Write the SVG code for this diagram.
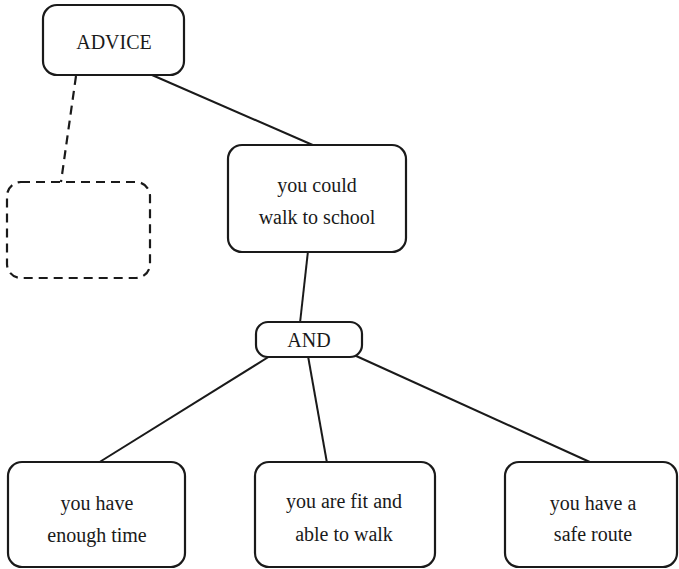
<svg xmlns="http://www.w3.org/2000/svg" width="679" height="569" viewBox="0 0 679 569">
<style>
.box{fill:#fff;stroke:#1a1a1a;stroke-width:2.2}
.dash{fill:none;stroke:#1a1a1a;stroke-width:2.2;stroke-dasharray:9 6}
.ln{stroke:#1a1a1a;stroke-width:2;fill:none}
text{font-family:"Liberation Serif","Times New Roman",serif;font-size:20px;fill:#1a1a1a;text-anchor:middle}
</style>
<rect width="679" height="569" fill="#fff"/>
<g id="connectors">
<line class="ln" x1="152" y1="75" x2="315" y2="146"/>
<line class="dash" x1="76" y1="76" x2="61" y2="182"/>
<line class="ln" x1="308" y1="251" x2="300" y2="323"/>
<line class="ln" x1="270" y1="356" x2="98" y2="463"/>
<line class="ln" x1="308" y1="356" x2="327" y2="463"/>
<line class="ln" x1="354" y1="355" x2="592" y2="463"/>
</g>
<g id="advice">
<rect class="box" x="43" y="5" width="141" height="70" rx="14"/>
<text x="114" y="49" font-size="21">ADVICE</text>
</g>
<g id="empty">
<rect class="dash" x="7" y="182" width="143" height="96" rx="14"/>
</g>
<g id="walk">
<rect class="box" x="228" y="145" width="178" height="107" rx="14"/>
<text x="317" y="192">you could</text>
<text x="317" y="224">walk to school</text>
</g>
<g id="and">
<rect class="box" x="256" y="322" width="106" height="35" rx="12"/>
<text x="309" y="347">AND</text>
</g>
<g id="time">
<rect class="box" x="8" y="462" width="177" height="105" rx="14"/>
<text x="97" y="510">you have</text>
<text x="97" y="542">enough time</text>
</g>
<g id="fit">
<rect class="box" x="255" y="462" width="180" height="105" rx="14"/>
<text x="344" y="508">you are fit and</text>
<text x="344" y="541">able to walk</text>
</g>
<g id="route">
<rect class="box" x="505" y="462" width="172" height="105" rx="14"/>
<text x="593" y="510">you have a</text>
<text x="593" y="541">safe route</text>
</g>
</svg>
